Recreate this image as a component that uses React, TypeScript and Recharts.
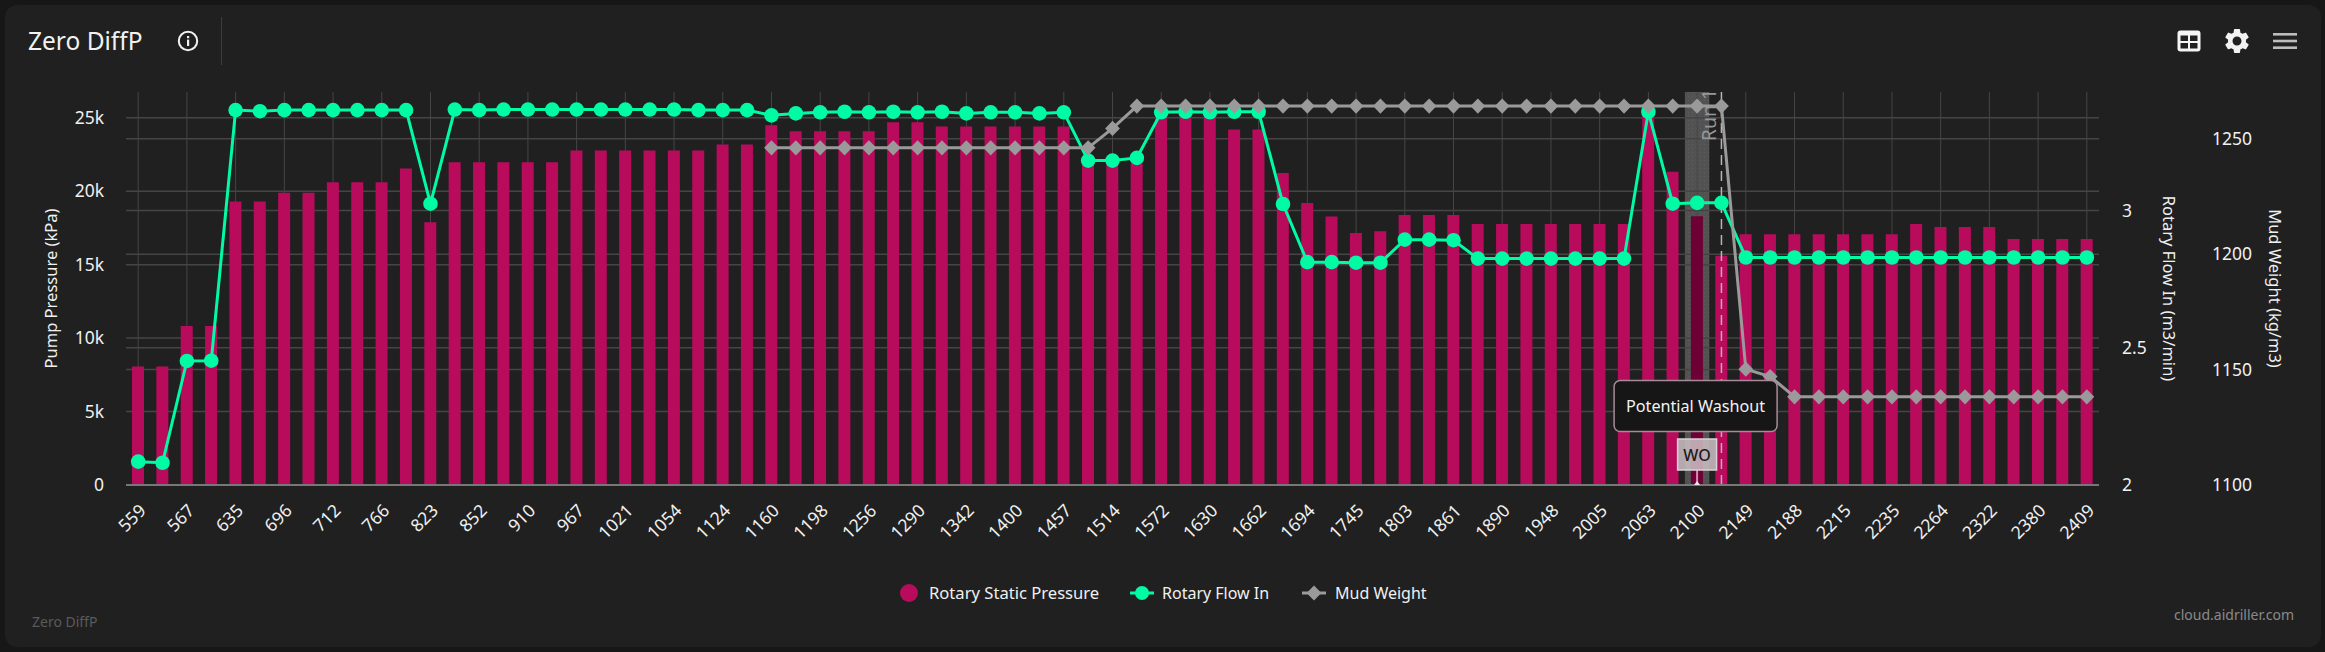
import React from 'react';
import { ComposedChart, Bar, Line, XAxis, YAxis, CartesianGrid, Legend, ReferenceArea, ReferenceLine, Cell } from 'recharts';

const depths = ['559','563','567','601','635','665','696','704','712','739','766','795','823','838','852','881','910','938','967','994','1021','1037','1054','1089','1124','1142','1160','1179','1198','1227','1256','1273','1290','1316','1342','1371','1400','1428','1457','1485','1514','1543','1572','1601','1630','1646','1662','1678','1694','1719','1745','1774','1803','1832','1861','1875','1890','1919','1948','1976','2005','2034','2063','2081','2100','2124','2149','2168','2188','2201','2215','2225','2235','2249','2264','2293','2322','2351','2380','2394','2409'];

const staticPressure = [8060,8060,10830,10830,19300,19300,19900,19900,20600,20600,20600,21550,17880,21960,21960,21960,21960,21960,22770,22770,22770,22770,22770,22770,23180,23180,24490,24080,24080,24080,24080,24690,24690,24400,24400,24400,24400,24400,24400,21900,21900,21900,25400,25400,25400,24200,24200,21230,19190,18280,17150,17270,18370,18370,18370,17760,17760,17760,17760,17760,17760,17760,25400,21320,18300,15600,17060,17060,17060,17060,17060,17060,17060,17760,17560,17560,17560,16740,16740,16740,16740];

const flowIn = [2.085,2.081,2.452,2.453,3.366,3.362,3.366,3.366,3.366,3.366,3.366,3.366,3.025,3.368,3.366,3.368,3.368,3.368,3.368,3.368,3.368,3.368,3.368,3.366,3.366,3.366,3.347,3.354,3.358,3.36,3.358,3.36,3.358,3.36,3.354,3.358,3.358,3.354,3.358,3.182,3.182,3.192,3.358,3.36,3.358,3.36,3.36,3.024,2.812,2.812,2.81,2.81,2.894,2.894,2.892,2.825,2.825,2.825,2.825,2.825,2.825,2.825,3.36,3.025,3.028,3.028,2.829,2.829,2.829,2.829,2.829,2.829,2.829,2.829,2.829,2.829,2.829,2.829,2.829,2.829,2.829];

const mudWeight = [null,null,null,null,null,null,null,null,null,null,null,null,null,null,null,null,null,null,null,null,null,null,null,null,null,null,1246.1,1246.1,1246.1,1246.1,1246.1,1246.1,1246.1,1246.1,1246.1,1246.1,1246.1,1246.1,1246.1,1246.1,1254.5,1264.2,1264.2,1264.2,1264.2,1264.2,1264.2,1264.2,1264.2,1264.2,1264.2,1264.2,1264.2,1264.2,1264.2,1264.2,1264.2,1264.2,1264.2,1264.2,1264.2,1264.2,1264.2,1264.2,1264.2,1264.2,1150.2,1147,1138.2,1138.2,1138.2,1138.2,1138.2,1138.2,1138.2,1138.2,1138.2,1138.2,1138.2,1138.2,1138.2];

const pressureTicks = [0,5000,10000,15000,20000,25000];
const flowTicks = [2,2.5,3];
const mudTicks = [1100,1150,1200,1250];
const legendNames = ['Rotary Static Pressure','Rotary Flow In','Mud Weight'];

const rows = depths.map((depth, i) => ({ depth, pressure: staticPressure[i], flow: flowIn[i], mud: mudWeight[i] }));

const FONT = '"Noto Sans", sans-serif';
const BAR = '#b80b5c';
const BAR_DARK = '#6d0035';
const GREEN = '#00fba4';
const GREY = '#9a9a9a';
const GRID = '#454545';
const runDepth = '2100';
const endDepth = '2124';

const Diamond = (p: any) => {
  const { cx, cy, key } = p;
  if (cx == null || cy == null || p.value == null) return <g key={key} />;
  const w = 7.4, h = 7.6;
  return <polygon key={key} points={`${cx - w},${cy} ${cx},${cy - h} ${cx + w},${cy} ${cx},${cy + h}`} fill={GREY} />;
};

const RunLabel = (p: any) => {
  const vb = p.viewBox || {};
  const x = vb.x - 13, y = vb.y + 23;
  return <text x={x} y={y} transform={`rotate(-90 ${x} ${y})`} textAnchor="middle" fontFamily={FONT} fontSize={19.5} fill="#979797" dominantBaseline="central">Run 1</text>;
};

const Annotation = (p: any) => {
  const vb = p.viewBox || {};
  const cx = vb.x;
  const top = vb.y;
  return (
    <g>
      <line x1={cx} x2={cx} y1={top + 378} y2={top + 392} stroke="#d98ab0" strokeWidth={2} />
      <polygon points={`${cx - 3},${top + 393} ${cx + 3},${top + 393} ${cx},${top + 389}`} fill="#e6e6e6" />
      <rect x={cx - 19.5} y={top + 347} width={39} height={31} fill="#c9bcc2" fillOpacity={0.88} stroke="#d4d4d4" strokeWidth={1.5} />
      <text x={cx} y={top + 363} textAnchor="middle" dominantBaseline="central" fontFamily={FONT} fontSize={16} fontWeight={500} fill="#1c1c1c">WO</text>
      <rect x={cx - 83} y={top + 288.5} width={163} height={51} rx={6} fill="#161616" stroke="#a88a98" strokeWidth={1.5} />
      <text x={cx - 1.5} y={top + 314} textAnchor="middle" dominantBaseline="central" fontFamily={FONT} fontSize={16.2} fill="#f2f2f2">Potential Washout</text>
    </g>
  );
};

const LegendContent = (p: any) => {
  const items = [...(p.payload || [])].sort((a: any, b: any) => legendNames.indexOf(a.value) - legendNames.indexOf(b.value));
  return (
    <div style={{ position: 'relative', width: 2325, height: 36, fontFamily: FONT, fontSize: 16, color: '#f0f0f0' }}>
      {items.map((it: any, i: number) => {
        const iconX = [900, 1130, 1302][i];
        const textX = [929, 1162, 1335][i];
        return (
          <React.Fragment key={it.value}>
            <svg style={{ position: 'absolute', left: iconX, top: 0 }} width={24} height={36}>
              {i === 0 && <circle cx={9} cy={18} r={9} fill={BAR} />}
              {i === 1 && <g><line x1={0} x2={24} y1={18} y2={18} stroke={GREEN} strokeWidth={3} /><circle cx={12} cy={18} r={7} fill={GREEN} /></g>}
              {i === 2 && <g><line x1={0} x2={24} y1={18} y2={18} stroke={GREY} strokeWidth={3} /><polygon points="4.6,18 12,10.5 19.4,18 12,25.5" fill={GREY} /></g>}
            </svg>
            <span style={{ position: 'absolute', left: textX, top: 6, lineHeight: '24px', whiteSpace: 'nowrap', fontSize: i === 0 ? 16.6 : 16 }}>{it.value}</span>
          </React.Fragment>
        );
      })}
    </div>
  );
};

const fmtK = (v: number) => (v === 0 ? '0' : `${v / 1000}k`);
const tickStyle = { fill: '#f0f0f0', fontSize: 17.5, fontFamily: FONT };
const titleStyle = { fill: '#f0f0f0', fontSize: 16.5, fontFamily: FONT };

const InfoIcon = () => (
  <svg style={{ position: 'absolute', left: 177, top: 30 }} width={22} height={22} viewBox="0 0 22 22">
    <circle cx={11} cy={11} r={9.2} fill="none" stroke="#f2f2f2" strokeWidth={2} />
    <rect x={10} y={9.6} width={2.2} height={6.4} fill="#f2f2f2" />
    <rect x={10} y={6} width={2.2} height={2.2} fill="#f2f2f2" />
  </svg>
);

export default function App() {
  return (
    <div style={{ position: 'absolute', left: 0, top: 0, width: 2325, height: 652, background: '#171717', overflow: 'hidden' }}>
      <div style={{ position: 'absolute', left: 5, top: 5, width: 2316, height: 642, background: '#202020', borderRadius: 12 }} />
      <div style={{ position: 'absolute', left: 28, top: 24, fontFamily: FONT, fontSize: 24.5, lineHeight: '34px', color: '#f2f2f2' }}>Zero DiffP</div>
      <InfoIcon />
      <div style={{ position: 'absolute', left: 221, top: 17, width: 1, height: 48, background: '#3c3c3c' }} />
      <svg style={{ position: 'absolute', left: 2177, top: 30 }} width={24} height={22} viewBox="0 0 24 22">
        <rect x={0.5} y={0.5} width={23} height={21} rx={3} fill="#f4f4f4" />
        <rect x={3.5} y={5.5} width={7.5} height={5.5} fill="#202020" />
        <rect x={13} y={5.5} width={7.5} height={5.5} fill="#202020" />
        <rect x={3.5} y={13} width={7.5} height={5.5} fill="#202020" />
        <rect x={13} y={13} width={7.5} height={5.5} fill="#202020" />
      </svg>
      <svg style={{ position: 'absolute', left: 2222, top: 26 }} width={30} height={30} viewBox="0 0 24 24">
        <path fill="#f2f2f2" d="M19.14 12.94c.04-.3.06-.61.06-.94 0-.32-.02-.64-.07-.94l2.03-1.58a.49.49 0 0 0 .12-.61l-1.92-3.32a.488.488 0 0 0-.59-.22l-2.39.96c-.5-.38-1.03-.7-1.62-.94l-.36-2.54a.484.484 0 0 0-.48-.41h-3.84c-.24 0-.43.17-.47.41l-.36 2.54c-.59.24-1.13.57-1.62.94l-2.39-.96c-.22-.08-.47 0-.59.22L2.74 8.87c-.12.21-.08.47.12.61l2.03 1.58c-.05.3-.09.63-.09.94s.02.64.07.94l-2.03 1.58a.49.49 0 0 0-.12.61l1.92 3.32c.12.22.37.29.59.22l2.39-.96c.5.38 1.03.7 1.62.94l.36 2.54c.05.24.24.41.48.41h3.84c.24 0 .44-.17.47-.41l.36-2.54c.59-.24 1.13-.56 1.62-.94l2.39.96c.22.08.47 0 .59-.22l1.92-3.32c.12-.22.07-.47-.12-.61l-2.01-1.58zM12 15.6c-1.98 0-3.6-1.62-3.6-3.6s1.62-3.6 3.6-3.6 3.6 1.62 3.6 3.6-1.62 3.6-3.6 3.6z" />
      </svg>
      <svg style={{ position: 'absolute', left: 2273, top: 32 }} width={24} height={18} viewBox="0 0 24 18">
        <rect x={0} y={1} width={24} height={2.6} fill="#bdbdbd" />
        <rect x={0} y={7.7} width={24} height={2.6} fill="#bdbdbd" />
        <rect x={0} y={14.4} width={24} height={2.6} fill="#bdbdbd" />
      </svg>
      <div style={{ position: 'absolute', left: 32, top: 612, fontFamily: FONT, fontSize: 14, lineHeight: '20px', color: '#5a5a5a' }}>Zero DiffP</div>
      <div style={{ position: 'absolute', right: 31, top: 605, fontFamily: FONT, fontSize: 14, lineHeight: '20px', color: '#8a8a8a' }}>cloud.aidriller.com</div>

      <div style={{ position: 'absolute', left: 0, top: 0 }}>
        <ComposedChart width={2325} height={652} data={rows} barSize={12} margin={{ top: 92, right: 0, bottom: 107, left: 0 }}>
          <defs>
            <pattern id="runBand" width="4" height="4" patternUnits="userSpaceOnUse">
              <rect width="4" height="4" fill="#525252" />
              <rect width="1" height="1" fill="#5e5e5e" />
            </pattern>
          </defs>
          <ReferenceArea yAxisId="pressure" x1={runDepth} x2={runDepth} fill="url(#runBand)" fillOpacity={1} stroke="none" zIndex={-150} />
          <CartesianGrid yAxisId="pressure" xAxisId={0} stroke={GRID} strokeWidth={1.5} vertical={false} syncWithTicks />
          <CartesianGrid yAxisId="flow" xAxisId={0} stroke={GRID} strokeWidth={1.5} vertical={false} syncWithTicks />
          <CartesianGrid yAxisId="mud" xAxisId={0} stroke={GRID} strokeWidth={1.5} vertical={false} syncWithTicks />
          <CartesianGrid yAxisId="pressure" xAxisId={0} stroke={GRID} strokeWidth={1} horizontal={false} syncWithTicks />
          <XAxis dataKey="depth" interval={1} height={60} tickSize={0} tickMargin={18} angle={-45} textAnchor="end" tick={tickStyle} stroke="#777" strokeWidth={2} />
          <YAxis yAxisId="pressure" orientation="left" width={126} domain={[0, 26750]} ticks={pressureTicks} tickFormatter={fmtK} tick={tickStyle} tickSize={0} tickMargin={22} axisLine={false} label={{ value: 'Pump Pressure (kPa)', angle: -90, position: 'center', dx: -12, style: titleStyle }} />
          <YAxis yAxisId="flow" orientation="right" width={113} domain={[2, 3.432]} ticks={flowTicks} tick={{ ...tickStyle, textAnchor: 'start' }} tickSize={0} tickMargin={23} axisLine={false} label={{ value: 'Rotary Flow In (m3/min)', angle: 90, position: 'center', dx: 13, style: titleStyle }} />
          <YAxis yAxisId="mud" orientation="right" width={113} domain={[1100, 1270.3]} ticks={mudTicks} tick={{ ...tickStyle, textAnchor: 'start' }} tickSize={0} tickMargin={0} axisLine={false} label={{ value: 'Mud Weight (kg/m3)', angle: 90, position: 'center', dx: 6, style: titleStyle }} />
          <Bar yAxisId="pressure" dataKey="pressure" name="Rotary Static Pressure" fill={BAR} isAnimationActive={false}>
            {rows.map((r) => <Cell key={r.depth} fill={r.depth === runDepth ? BAR_DARK : BAR} />)}
          </Bar>
          <ReferenceLine yAxisId="pressure" x={endDepth} stroke="#b5b5b5" strokeWidth={1.5} strokeDasharray="10 6" label={<RunLabel />} />
          <Line yAxisId="flow" dataKey="flow" name="Rotary Flow In" stroke={GREEN} strokeWidth={3} dot={{ r: 7.3, fill: GREEN, stroke: 'none' }} isAnimationActive={false} />
          <Line yAxisId="mud" dataKey="mud" name="Mud Weight" stroke={GREY} strokeWidth={3} dot={<Diamond />} isAnimationActive={false} />
          <ReferenceLine yAxisId="pressure" x={runDepth} stroke="none" label={<Annotation />} zIndex={3000} />
          <Legend verticalAlign="middle" align="center" wrapperStyle={{ top: 575, left: 0, width: 2325, height: 36 }} content={<LegendContent />} />
        </ComposedChart>
      </div>
    </div>
  );
}
